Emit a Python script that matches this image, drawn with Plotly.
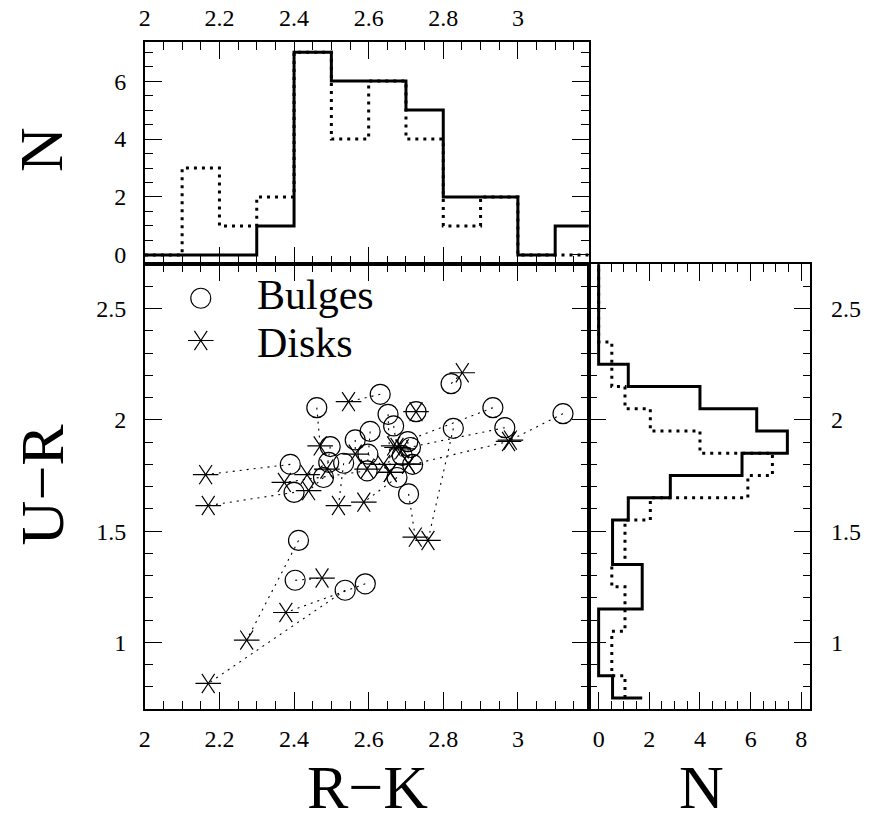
import plotly.graph_objects as go

# ---------------- data ----------------
# R-K histogram (top panel), bins of 0.1 from 2.0 to 3.2
rk_edges = [2.0, 2.1, 2.2, 2.3, 2.4, 2.5, 2.6, 2.7, 2.8, 2.9, 3.0, 3.1, 3.2]
rk_bulges = [0, 0, 0, 1, 7, 6, 6, 5, 2, 2, 0, 1]
rk_disks = [0, 3, 1, 2, 7, 4, 6, 4, 1, 2, 0, 0]

# U-R histogram (right panel), bins of 0.1 from 0.75 to 2.75
ur_edges = [0.75, 0.85, 0.95, 1.05, 1.15, 1.25, 1.35, 1.45, 1.55, 1.65, 1.75,
            1.85, 1.95, 2.05, 2.15, 2.25, 2.35, 2.45, 2.55, 2.65, 2.75]
ur_bulges = [0.55, 0, 0, 0, 1.72, 1.72, 0.55, 0.55, 1.17, 2.83, 5.66,
             7.45, 6.24, 4.0, 1.17, 0, 0, 0, 0, 0]
ur_bulges_lead = 1.72
ur_disks = [1.04, 0.52, 0.52, 1.04, 1.04, 0.52, 1.04, 1.04, 2.04, 5.89, 6.86,
            4.0, 2.04, 1.04, 0.52, 0.52, 0, 0, 0, 0]

# Scatter: bulge and disk colours of the same galaxy (pairs, same order)
bulge_rk = [2.390, 2.400, 2.412, 2.403, 2.537, 2.591, 2.461, 2.631, 2.652, 2.667,
            2.727, 2.821, 2.933, 2.827, 2.965, 3.121, 2.564, 2.604, 2.497, 2.705,
            2.712, 2.493, 2.479, 2.533, 2.598, 2.676, 2.707, 2.596, 2.690, 2.718]
bulge_ur = [1.800, 1.674, 1.458, 1.279, 1.234, 1.263, 2.055, 2.115, 2.025, 1.973,
            2.037, 2.163, 2.055, 1.962, 1.965, 2.028, 1.910, 1.948, 1.880, 1.902,
            1.876, 1.809, 1.741, 1.805, 1.846, 1.741, 1.667, 1.771, 1.840, 1.800]
disk_rk = [2.163, 2.170, 2.273, 2.475, 2.170, 2.378, 2.470, 2.546, 2.658, 2.676,
           2.727, 2.851, 2.667, 2.759, 2.690, 2.980, 2.564, 2.596, 2.488, 2.707,
           2.707, 2.435, 2.439, 2.519, 2.658, 2.587, 2.725, 2.374, 2.640, 2.975]
disk_ur = [1.754, 1.615, 1.010, 1.289, 0.815, 1.134, 1.883, 2.082, 1.764, 1.876,
           2.037, 2.212, 1.883, 1.458, 1.870, 1.909, 1.846, 1.779, 1.779, 1.801,
           1.801, 1.754, 1.682, 1.615, 1.764, 1.630, 1.473, 1.719, 1.800, 1.903]

legend_labels = ["Bulges", "Disks"]

# tick steps
rk_major, rk_minor = 0.2, 0.05
ur_major, ur_minor = 0.5, 0.1
n_major, n_minor = 2, 0.5

# ---------------- figure ----------------
FONT = "Liberation Serif"
fig = go.Figure()

lx, ly = [], []
for bx, by, dx, dy in zip(bulge_rk, bulge_ur, disk_rk, disk_ur):
    lx += [bx, dx, None]
    ly += [by, dy, None]
fig.add_trace(go.Scatter(x=lx, y=ly, mode="lines",
                         line=dict(color="black", width=1.1, dash="2px,5px"),
                         xaxis="x", yaxis="y", hoverinfo="skip"))

circ = dict(symbol="circle-open", size=20, color="black", line=dict(width=1.2, color="black"))
def star(sym):
    return dict(symbol=sym, size=16, angle=90, color="black", line=dict(width=1.2, color="black"))

fig.add_trace(go.Scatter(x=bulge_rk, y=bulge_ur, mode="markers", marker=circ,
                         xaxis="x", yaxis="y"))
for sym in ["y-up-open", "y-down-open"]:
    fig.add_trace(go.Scatter(x=disk_rk, y=disk_ur, mode="markers", marker=star(sym),
                             xaxis="x", yaxis="y"))

# legend (inside main panel)
fig.add_trace(go.Scatter(x=[2.15], y=[2.547], mode="markers", marker=circ,
                         xaxis="x", yaxis="y"))
for sym in ["y-up-open", "y-down-open"]:
    fig.add_trace(go.Scatter(x=[2.15], y=[2.357], mode="markers", marker=star(sym),
                             xaxis="x", yaxis="y"))
legend_split = 2.452
for lab, anchor in zip(legend_labels, ["bottom", "top"]):
    fig.add_annotation(x=2.298, y=legend_split, xref="x", yref="y", text=lab, showarrow=False,
                       xanchor="left", yanchor=anchor, borderpad=0,
                       font=dict(family=FONT, size=42, color="black"))

def steps_h(edges, counts):
    xs, ys = [], []
    for i, c in enumerate(counts):
        xs += [edges[i], edges[i + 1]]
        ys += [c, c]
    return xs, ys

def steps_v(edges, counts, lead=None):
    xs, ys = [], []
    if lead is not None:
        xs.append(lead)
        ys.append(edges[0])
    for i, c in enumerate(counts):
        xs += [c, c]
        ys += [edges[i], edges[i + 1]]
    return xs, ys

dx_, dy_ = steps_h(rk_edges, rk_disks)
fig.add_trace(go.Scatter(x=dx_, y=dy_, mode="lines", xaxis="x2", yaxis="y2",
                         line=dict(color="black", width=3, dash="3px,5px")))
sx_, sy_ = steps_h(rk_edges, rk_bulges)
fig.add_trace(go.Scatter(x=sx_, y=sy_, mode="lines", xaxis="x2", yaxis="y2",
                         line=dict(color="black", width=3)))

dx_, dy_ = steps_v(ur_edges, ur_disks)
fig.add_trace(go.Scatter(x=dx_, y=dy_, mode="lines", xaxis="x3", yaxis="y3",
                         line=dict(color="black", width=3, dash="3px,5px")))
sx_, sy_ = steps_v(ur_edges, ur_bulges, ur_bulges_lead)
fig.add_trace(go.Scatter(x=sx_, y=sy_, mode="lines", xaxis="x3", yaxis="y3",
                         line=dict(color="black", width=3)))

# ---------------- axes ----------------
W, H = 871, 822
XD = [139.8 / W, 586.8 / W]
YD = [1 - 712.5 / H, 1 - 265.5 / H]
TD = [1 - 265.5 / H, 1 - 42.2 / H]
RD = [586.8 / W, 810.0 / W]
RK_RANGE = [2, 3.19]

tickfont = dict(family=FONT, size=24, color="black")
common = dict(showgrid=False, zeroline=False, showline=True, linecolor="black",
              linewidth=1.6, mirror="ticks", ticks="inside", ticklen=17,
              tickwidth=1.3, tickcolor="black", tickfont=tickfont, tickmode="linear")

def minor(t0, dt):
    return dict(ticks="inside", ticklen=8, tick0=t0, dtick=dt, tickcolor="black", tickwidth=1.2)

fig.update_layout(
    width=W, height=H, margin=dict(l=0, r=0, t=0, b=0),
    paper_bgcolor="white", plot_bgcolor="white", showlegend=False,
    xaxis=dict(domain=XD, range=RK_RANGE, anchor="y", tick0=2, dtick=rk_major,
               ticklabelstandoff=7, minor=minor(2, rk_minor), **common),
    yaxis=dict(domain=YD, range=[0.7, 2.7], anchor="x", tick0=0, dtick=ur_major,
               ticklabelstandoff=12, minor=minor(0, ur_minor), **common),
    xaxis2=dict(domain=XD, range=RK_RANGE, anchor="y2", side="top", tick0=2, dtick=rk_major,
                ticklabelstandoff=5, minor=minor(2, rk_minor), **common),
    yaxis2=dict(domain=TD, range=[-0.32, 7.35], anchor="x2", tick0=0, dtick=n_major,
                ticklabelstandoff=12, minor=minor(0, n_minor), **common),
    xaxis3=dict(domain=RD, range=[-0.39, 8.36], anchor="y3", tick0=0, dtick=n_major,
                ticklabelstandoff=7, minor=minor(0, n_minor), **common),
    yaxis3=dict(domain=YD, range=[0.7, 2.7], anchor="x3", side="right", tick0=0, dtick=ur_major,
                ticklabelstandoff=14, minor=minor(0, ur_minor), **common),
)

titlefont = dict(family=FONT, size=62, color="black")
fig.add_annotation(x=36 / W, y=1 - 150 / H, xref="paper", yref="paper", text="N",
                   textangle=-90, showarrow=False, font=titlefont, xanchor="center", yanchor="middle")
fig.add_annotation(x=36 / W, y=1 - 487 / H, xref="paper", yref="paper", text="U\u2212R",
                   textangle=-90, showarrow=False, font=titlefont, xanchor="center", yanchor="middle")
fig.add_annotation(x=364 / W, y=1 - 791 / H, xref="paper", yref="paper", text="R\u2212K",
                   showarrow=False, font=titlefont, xanchor="center", yanchor="middle")
fig.add_annotation(x=700 / W, y=1 - 791 / H, xref="paper", yref="paper", text="N",
                   showarrow=False, font=titlefont, xanchor="center", yanchor="middle")

fig.write_html("out.html", config={"displayModeBar": False},
               post_script="document.body.style.margin='0';")
